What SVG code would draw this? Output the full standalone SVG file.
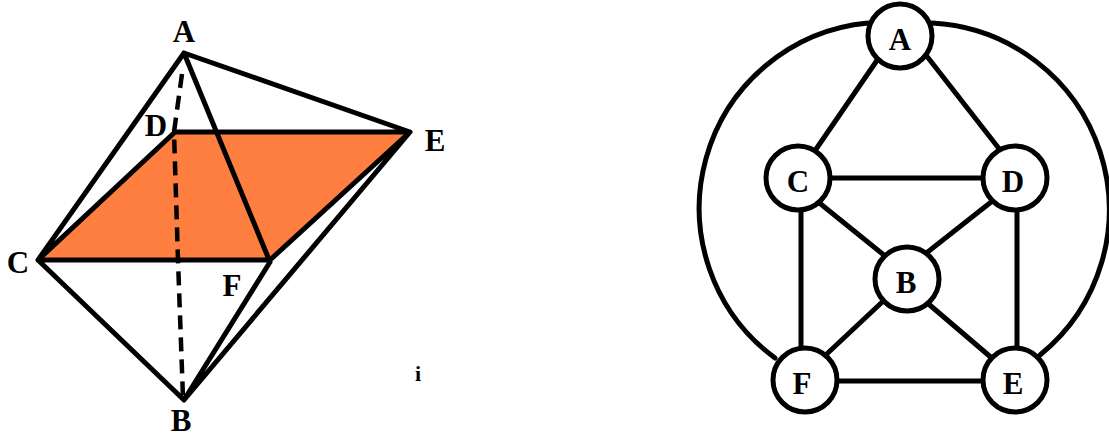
<svg xmlns="http://www.w3.org/2000/svg" width="1109" height="437" viewBox="0 0 1109 437">
<style>
.e{fill:none;stroke:#000;stroke-width:5;stroke-linecap:round;stroke-linejoin:round}
.t{font-family:"Liberation Serif","Times New Roman",serif;font-weight:bold;font-size:31px;text-anchor:middle;fill:#000}
.n{fill:#fff;stroke:#000;stroke-width:5}
</style>
<rect width="1109" height="437" fill="#fff"/>
<g id="solid">
<polygon points="38,260 175,132 410,132 270,262" fill="#fe7f3f"/>
<g id="connectors-solid">
<path class="e" d="M184,53L38,260L184,400L270,262M38,260H270L410,132H175L38,260M184,53L410,132L184,400M184,53L270,262"/>
<path class="e" style="stroke-linecap:butt;stroke-width:4.5" stroke-dasharray="14 8" d="M182,74L174,132L178,260L183,398"/>
</g>
<text class="t" x="184" y="42">A</text>
<text class="t" x="156" y="136">D</text>
<text class="t" x="435" y="151">E</text>
<text class="t" x="18" y="273">C</text>
<text class="t" x="232" y="296">F</text>
<text class="t" x="181" y="431">B</text>
<text x="418" y="381" font-family="Liberation Serif,serif" font-size="22" font-weight="bold" text-anchor="middle">i</text>
</g>
<g id="connectors">
<path class="e" d="M868,23A186,186 0 0 0 775,358M932,23A187,187 0 0 1 1040,355"/>
<path class="e" d="M880,56L812,155M922,50L1004,155M798,178H1015M801,178V380M812,197L895,264M1000,195L915,262M1017,178V380M895,290L815,365M918,295L1000,365M805,381H1015"/>
</g>
<g id="node-A"><circle class="n" cx="900" cy="36" r="32"/><text class="t" x="900" y="50">A</text></g>
<g id="node-C"><circle class="n" cx="798" cy="178" r="32"/><text class="t" x="798" y="192">C</text></g>
<g id="node-D"><circle class="n" cx="1015" cy="178" r="32"/><text class="t" x="1013" y="192">D</text></g>
<g id="node-B"><circle class="n" cx="907" cy="279" r="32"/><text class="t" x="906" y="293">B</text></g>
<g id="node-F"><circle class="n" cx="805" cy="380" r="32"/><text class="t" x="802" y="394">F</text></g>
<g id="node-E"><circle class="n" cx="1015" cy="380" r="32"/><text class="t" x="1013" y="394">E</text></g>
</svg>
